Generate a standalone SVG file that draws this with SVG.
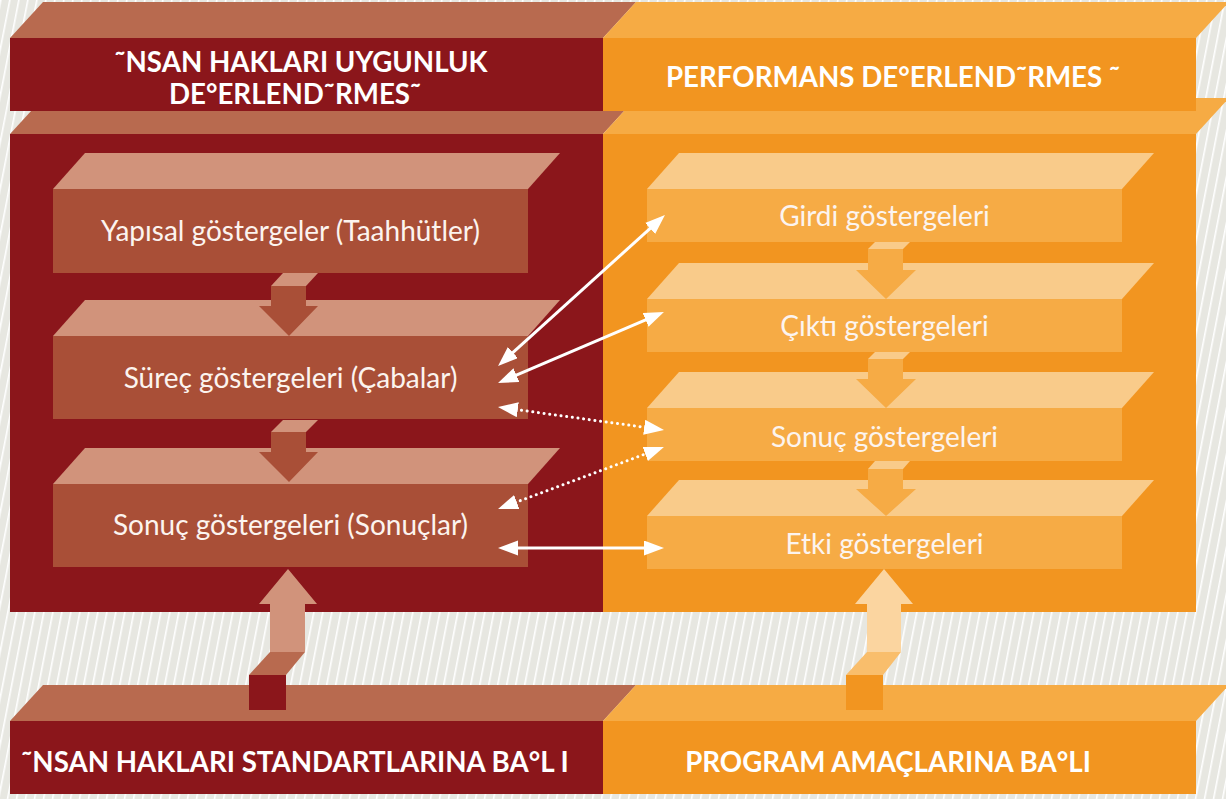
<svg xmlns="http://www.w3.org/2000/svg" width="1226" height="799" viewBox="0 0 1226 799">
<defs>
<pattern id="stripes" patternUnits="userSpaceOnUse" width="9" height="9" patternTransform="skewX(-11)">
<rect x="0" y="0" width="1.6" height="9" fill="#ffffff"/>
</pattern>
<marker id="ah" markerUnits="userSpaceOnUse" markerWidth="22" markerHeight="16" refX="2" refY="7.5" orient="auto-start-reverse">
<path d="M0,0 L20,7.5 L0,15 z" fill="#ffffff"/>
</marker>
<style>
.title{font-family:Lato,"Liberation Sans",sans-serif;font-weight:700;font-size:27.7px;fill:#ffffff;text-anchor:middle}
.lbl{font-family:Lato,"Liberation Sans",sans-serif;font-weight:400;font-size:28px;fill:#fcf4ef;text-anchor:middle}
.dred{fill:#8b161b}.brn{fill:#b86a4f}.org{fill:#f29520}.orgt{fill:#f6ab44}
.lfront{fill:#a94f37}.ltop{fill:#d1937b}.rfront{fill:#f6ab45}.rtop{fill:#f9cb8a}
.conn{stroke:#ffffff;stroke-width:3;fill:none;marker-start:url(#ah);marker-end:url(#ah)}
.dot{stroke-dasharray:0.1 5.6;stroke-linecap:round}
</style>
</defs>
<g id="background">
<rect width="1226" height="799" fill="#e7e7e1"/>
<rect width="1226" height="799" fill="url(#stripes)"/>
</g>
<g id="panels">
<polygon class="brn" points="10,134 43,98 636,98 603,134"/>
<polygon class="orgt" points="603,134 636,98 1229,98 1196,134"/>
<rect class="dred" x="10" y="134" width="593" height="478"/>
<rect class="org" x="603" y="134" width="593" height="478"/>
</g>
<g id="header-left">
<polygon class="brn" points="10,38 43,2 636,2 603,38"/>
<rect class="dred" x="10" y="38" width="593" height="73"/>
<text class="title" x="301" y="72">˜NSAN HAKLARI UYGUNLUK</text>
<text class="title" x="295" y="104">DE°ERLEND˜RMES˜</text>
</g>
<g id="header-right">
<polygon class="orgt" points="603,38 636,2 1229,2 1196,38"/>
<rect class="org" x="603" y="38" width="593" height="73"/>
<text class="title" x="893" y="87">PERFORMANS DE°ERLEND˜RMES ˜</text>
</g>
<g id="footer-left">
<polygon class="brn" points="10,721 43,685 636,685 603,721"/>
<rect class="dred" x="10" y="721" width="593" height="73"/>
<text class="title" x="295" y="772">˜NSAN HAKLARI STANDARTLARINA BA°L I</text>
</g>
<g id="footer-right">
<polygon class="orgt" points="603,721 636,685 1229,685 1196,721"/>
<rect class="org" x="603" y="721" width="593" height="73"/>
<text class="title" x="888" y="772">PROGRAM AMAÇLARINA BA°LI</text>
</g>
<g id="node-yapisal">
<polygon class="ltop" points="53,189 85,153 560,153 528,189"/>
<rect class="lfront" x="53" y="189" width="475" height="84"/>
<text class="lbl" x="290.5" y="241">Yapısal göstergeler (Taahhütler)</text>
</g>
<g id="node-surec">
<polygon class="ltop" points="53,336 85,300 560,300 528,336"/>
<rect class="lfront" x="53" y="336" width="475" height="83"/>
<text class="lbl" x="290.5" y="388">Süreç göstergeleri (Çabalar)</text>
</g>
<g id="node-sonuc-l">
<polygon class="ltop" points="53,484 85,448 560,448 528,484"/>
<rect class="lfront" x="53" y="484" width="475" height="83"/>
<text class="lbl" x="290.5" y="535">Sonuç göstergeleri (Sonuçlar)</text>
</g>
<g id="node-girdi">
<polygon class="rtop" points="647,189 679,153 1154,153 1122,189"/>
<rect class="rfront" x="647" y="189" width="475" height="53"/>
<text class="lbl" x="884.5" y="226">Girdi göstergeleri</text>
</g>
<g id="node-cikti">
<polygon class="rtop" points="647,299 679,263 1154,263 1122,299"/>
<rect class="rfront" x="647" y="299" width="475" height="53"/>
<text class="lbl" x="884.5" y="336">Çıktı göstergeleri</text>
</g>
<g id="node-sonuc-r">
<polygon class="rtop" points="647,408 679,372 1154,372 1122,408"/>
<rect class="rfront" x="647" y="408" width="475" height="53"/>
<text class="lbl" x="884.5" y="447">Sonuç göstergeleri</text>
</g>
<g id="node-etki">
<polygon class="rtop" points="647,516 679,480 1154,480 1122,516"/>
<rect class="rfront" x="647" y="516" width="475" height="53"/>
<text class="lbl" x="884.5" y="554">Etki göstergeleri</text>
</g>
<g id="block-arrows">
<g id="arrow-l1">
<polygon class="ltop" points="271,286 306,286 318,273 283,273"/>
<polygon class="lfront" points="271,286 306,286 306,306 318,306 289,336 259,306 271,306"/>
</g>
<g id="arrow-l2">
<polygon class="ltop" points="271,432 306,432 318,420 283,420"/>
<polygon class="lfront" points="271,432 306,432 306,452 318,452 289,482 259,452 271,452"/>
</g>
<g id="arrow-r1">
<polygon class="rtop" points="868,249 903,249 910,242 875,242"/>
<polygon class="rfront" points="868,249 903,249 903,270 916,270 886,299 856,270 868,270"/>
</g>
<g id="arrow-r2">
<polygon class="rtop" points="868,359 903,359 910,352 875,352"/>
<polygon class="rfront" points="868,359 903,359 903,379 916,379 886,408 856,379 868,379"/>
</g>
<g id="arrow-r3">
<polygon class="rtop" points="868,469 903,469 910,461 875,461"/>
<polygon class="rfront" points="868,469 903,469 903,489 916,489 886,516 856,489 868,489"/>
</g>
<g id="arrow-up-left">
<rect class="dred" x="249" y="675" width="37" height="35"/>
<polygon class="brn" points="249,675 286,675 305,652 270,652"/>
<polygon class="ltop" points="270,652 305,652 305,604 317,604 288,569 259,604 270,604"/>
</g>
<g id="arrow-up-right">
<rect class="org" x="846" y="675" width="37" height="35"/>
<polygon fill="#f9be6c" points="846,675 883,675 901,652 867,652"/>
<polygon fill="#fbd5a0" points="867,652 901,652 901,604 913,604 884,569 855,604 867,604"/>
</g>
</g>
<g id="connectors">
<line class="conn" x1="511.4" y1="353.9" x2="651.6" y2="227.1"/>
<line class="conn" x1="514.6" y1="375.9" x2="647.4" y2="319.1"/>
<line class="conn dot" x1="515.8" y1="409.5" x2="646.2" y2="427.5"/>
<line class="conn dot" x1="514.9" y1="502.7" x2="647.1" y2="453.3"/>
<line class="conn" x1="516" y1="548" x2="646" y2="548"/>
</g>
</svg>
